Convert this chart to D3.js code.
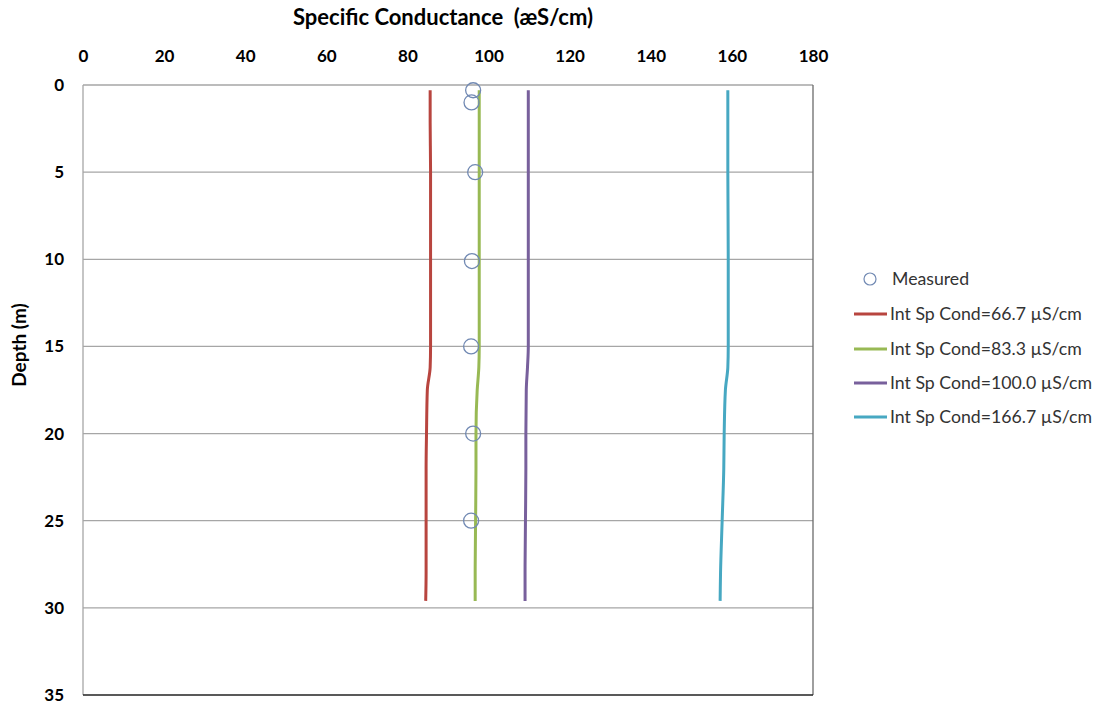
<!DOCTYPE html>
<html>
<head>
<meta charset="utf-8">
<script src="https://cdn.jsdelivr.net/npm/d3@7"></script>
<style>
  html, body { margin: 0; padding: 0; background: #fff; }
  svg { display: block; }
</style>
</head>
<body>
<svg id="chart" width="1099" height="706"></svg>
<script>
// Depth profile of specific conductance: measured values and four model runs
const depthTicks = [0, 5, 10, 15, 20, 25, 30, 35];
const condTicks = [0, 20, 40, 60, 80, 100, 120, 140, 160, 180];

const measuredDepth = [0.3, 1.0, 5.0, 10.1, 15.0, 20.0, 25.0];
const measuredCond  = [96.2, 95.8, 96.7, 95.9, 95.7, 96.2, 95.7];

const modelDepth = [0.3, 2, 5, 10, 15, 16.2, 17.5, 20, 22, 25, 28, 29.6];
const cond667  = [85.6, 85.6, 85.7, 85.7, 85.7, 85.6, 84.9, 84.7, 84.6, 84.6, 84.6, 84.5];
const cond833  = [97.7, 97.7, 97.7, 97.7, 97.7, 97.6, 97.2, 96.9, 96.9, 96.8, 96.7, 96.7];
const cond1000 = [109.8, 109.8, 109.8, 109.8, 109.8, 109.6, 109.3, 109.2, 109.2, 109.1, 109.0, 109.0];
const cond1667 = [159.0, 159.0, 159.0, 159.1, 159.1, 159.0, 158.4, 158.1, 158.0, 157.6, 157.2, 157.1];

const seriesNames = [
  "Int Sp Cond=66.7 \u00B5S/cm",
  "Int Sp Cond=83.3 \u00B5S/cm",
  "Int Sp Cond=100.0 \u00B5S/cm",
  "Int Sp Cond=166.7 \u00B5S/cm"
];
const seriesColors = ["#B8453F", "#98B954", "#78609C", "#47A8C2"];
const seriesValues = [cond667, cond833, cond1000, cond1667];

const svg = d3.select("#chart");
const font = "Lato, 'Open Sans', sans-serif";

const plot = { left: 83, right: 813, top: 85, bottom: 695 };

const x = d3.scaleLinear().domain([0, 180]).range([plot.left, plot.right]);
const y = d3.scaleLinear().domain([0, 35]).range([plot.top, plot.bottom]);

// horizontal gridlines
svg.append("g")
  .selectAll("line")
  .data(depthTicks.filter(d => d < 35))
  .join("line")
  .attr("x1", plot.left).attr("x2", plot.right)
  .attr("y1", d => y(d)).attr("y2", d => y(d))
  .attr("stroke", "#a6a6a6").attr("stroke-width", 1.3);

// plot frame: left grey, right and bottom dark
svg.append("line")
  .attr("x1", plot.left).attr("x2", plot.left)
  .attr("y1", plot.top).attr("y2", plot.bottom)
  .attr("stroke", "#a6a6a6").attr("stroke-width", 1.3);
svg.append("line")
  .attr("x1", plot.right).attr("x2", plot.right)
  .attr("y1", plot.top).attr("y2", plot.bottom)
  .attr("stroke", "#6b6b6b").attr("stroke-width", 1.3);
svg.append("line")
  .attr("x1", plot.left).attr("x2", plot.right)
  .attr("y1", plot.bottom).attr("y2", plot.bottom)
  .attr("stroke", "#222").attr("stroke-width", 1.3);

// top axis labels
const xAxis = d3.axisTop(x).tickValues(condTicks).tickSize(0).tickPadding(0);
const gx = svg.append("g").attr("transform", "translate(0,62)").call(xAxis);
gx.select(".domain").remove();
gx.selectAll("text")
  .attr("font-family", font).attr("font-weight", "bold")
  .attr("font-size", 17).attr("fill", "#000");

// left axis labels
const yAxis = d3.axisLeft(y).tickValues(depthTicks).tickSize(0).tickPadding(0);
const gy = svg.append("g").attr("transform", "translate(64,0)").call(yAxis);
gy.select(".domain").remove();
gy.selectAll("text")
  .attr("font-family", font).attr("font-weight", "bold")
  .attr("font-size", 17).attr("fill", "#000");

// axis titles
svg.append("text")
  .attr("x", 443).attr("y", 25)
  .attr("text-anchor", "middle")
  .attr("font-family", font).attr("font-weight", "bold")
  .attr("font-size", 22).attr("fill", "#000")
  .style("white-space", "pre")
  .text("Specific Conductance  (\u00E6S/cm)");

svg.append("text")
  .attr("transform", "translate(26,345) rotate(-90)")
  .attr("text-anchor", "middle")
  .attr("font-family", font).attr("font-weight", "bold")
  .attr("font-size", 19).attr("fill", "#000")
  .text("Depth (m)");

// model profiles
const line = d3.line()
  .x(d => x(d[0]))
  .y(d => y(d[1]))
  .curve(d3.curveMonotoneY);

seriesValues.forEach((vals, i) => {
  svg.append("path")
    .datum(vals.map((v, j) => [v, modelDepth[j]]))
    .attr("d", line)
    .attr("fill", "none")
    .attr("stroke", seriesColors[i])
    .attr("stroke-width", 3)
    .attr("stroke-linecap", "butt");
});

// measured points
svg.append("g")
  .selectAll("circle")
  .data(measuredCond.map((v, i) => [v, measuredDepth[i]]))
  .join("circle")
  .attr("cx", d => x(d[0])).attr("cy", d => y(d[1]))
  .attr("r", 7.5)
  .attr("fill", "none")
  .attr("stroke", "#7189b3").attr("stroke-width", 1.3);

// legend
const legend = svg.append("g").attr("font-family", font).attr("font-size", 17.7);
const rowY = [279, 314, 349, 383, 417];

legend.append("circle")
  .attr("cx", 870).attr("cy", rowY[0]).attr("r", 6)
  .attr("fill", "none").attr("stroke", "#7189b3").attr("stroke-width", 1.2);
legend.append("text")
  .attr("x", 892).attr("y", rowY[0] + 6)
  .attr("fill", "#333").text("Measured");

seriesNames.forEach((name, i) => {
  const yy = rowY[i + 1];
  legend.append("line")
    .attr("x1", 854).attr("x2", 887)
    .attr("y1", yy).attr("y2", yy)
    .attr("stroke", seriesColors[i]).attr("stroke-width", 3);
  legend.append("text")
    .attr("x", 890).attr("y", yy + 6)
    .attr("fill", "#333").text(name);
});
</script>
</body>
</html>
